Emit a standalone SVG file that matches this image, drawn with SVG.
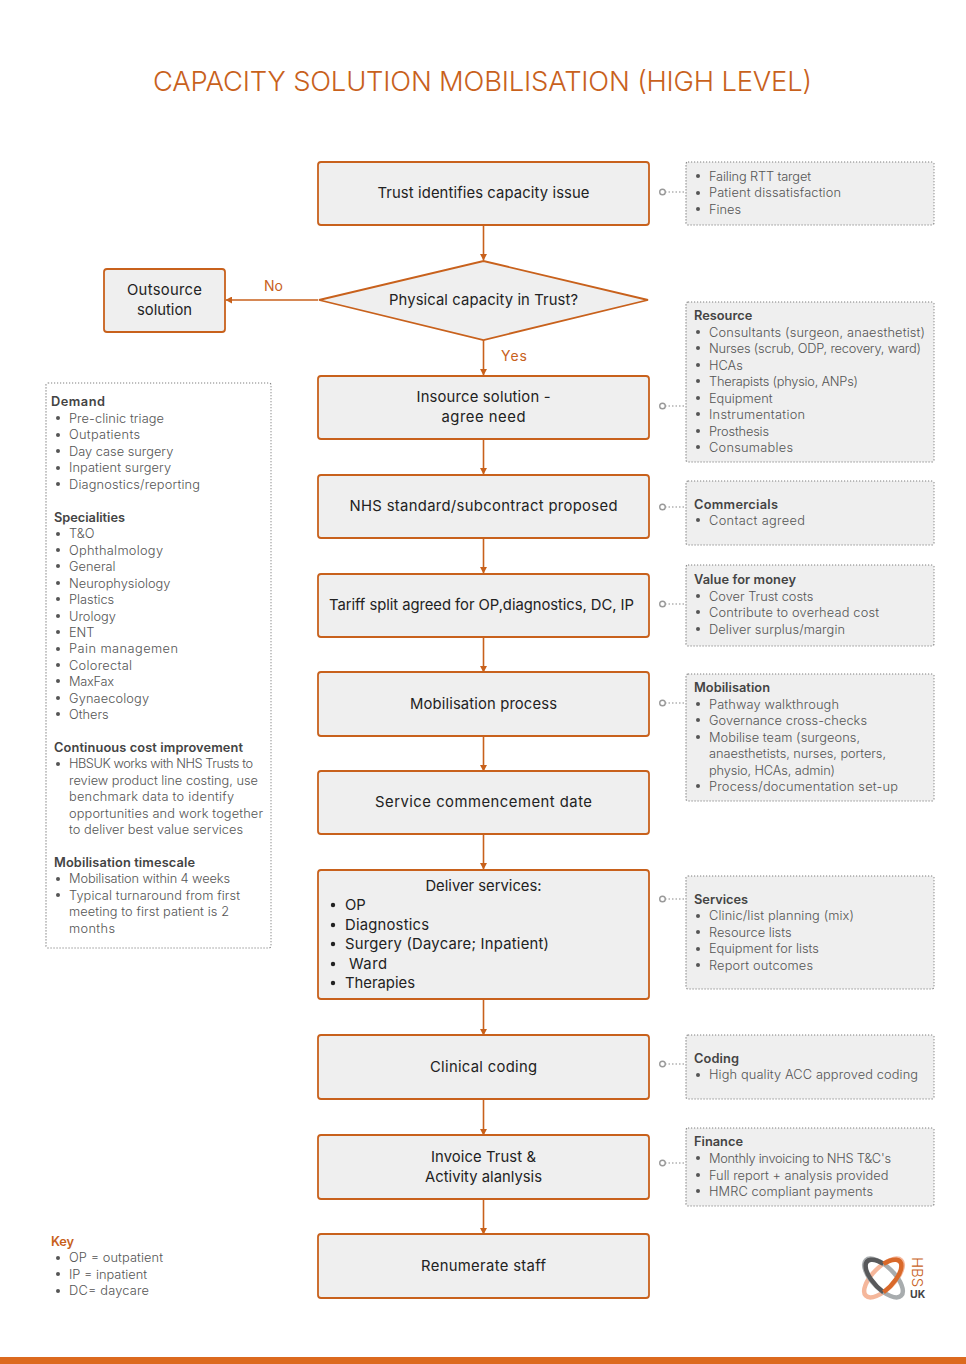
<svg xmlns="http://www.w3.org/2000/svg" width="966" height="1364" viewBox="0 0 966 1364">
<style>
text{font-family:Inter,"Liberation Sans",sans-serif}
.n{fill:#efefef;stroke:#c8611c;stroke-width:1.8}
.m{font-size:14.8px;fill:#222;text-anchor:middle}
.ml{font-size:14.8px;fill:#222}
.d{fill:#efefef;stroke:#808080;stroke-width:1.2;stroke-dasharray:1.2 1.8}
.w{fill:#fff;stroke:#808080;stroke-width:1.2;stroke-dasharray:1.2 1.8}
.h{font-size:12.8px;font-weight:600;fill:#444}
.b{font-size:12.8px;font-weight:300;fill:#555}
.o{font-size:14px;fill:#c8611c}
.c{fill:none;stroke:#c8611c;stroke-width:1.6}
.t{fill:none;stroke:#8a8a8a;stroke-width:1.2;stroke-dasharray:1.5 2}
.r{fill:#fff;stroke:#999;stroke-width:1.4}
.a{fill:#c8611c}
.bu{fill:#555}
.lg{fill:none;stroke-width:4.5}
</style>
<defs>
<marker id="ah" markerWidth="7" markerHeight="7" refX="6" refY="3.5" orient="auto" markerUnits="userSpaceOnUse"><path d="M0 0L6.500 3.500L0 7z" class="a"/></marker>
<circle id="dot" r="2" class="bu"/>
</defs>
<text id="title" x="482.5" y="91" text-anchor="middle" font-size="27.4" fill="#c8611c" font-weight="300" textLength="659">CAPACITY SOLUTION MOBILISATION (HIGH LEVEL)</text>

<g id="connectors">
<path class="c" marker-end="url(#ah)" d="M483.500 225V260"/>
<path class="c" marker-end="url(#ah)" d="M318 300H226"/>
<path class="c" marker-end="url(#ah)" d="M483.500 340V375"/>
<path class="c" marker-end="url(#ah)" d="M483.500 439V474"/>
<path class="c" marker-end="url(#ah)" d="M483.500 538V573"/>
<path class="c" marker-end="url(#ah)" d="M483.500 637V672"/>
<path class="c" marker-end="url(#ah)" d="M483.500 736V771"/>
<path class="c" marker-end="url(#ah)" d="M483.500 834V869"/>
<path class="c" marker-end="url(#ah)" d="M483.500 999V1035"/>
<path class="c" marker-end="url(#ah)" d="M483.500 1099V1135"/>
<path class="c" marker-end="url(#ah)" d="M483.500 1199V1234"/>
<path class="t" d="M665 192H686M665 406H686M665 507H686M665 604H686M665 703H686M665 899H686M665 1064H686M665 1163H686"/>
<circle class="r" cx="662.500" cy="192" r="2.800"/>
<circle class="r" cx="662.500" cy="406" r="2.800"/>
<circle class="r" cx="662.500" cy="507" r="2.800"/>
<circle class="r" cx="662.500" cy="604" r="2.800"/>
<circle class="r" cx="662.500" cy="703" r="2.800"/>
<circle class="r" cx="662.500" cy="899" r="2.800"/>
<circle class="r" cx="662.500" cy="1064" r="2.800"/>
<circle class="r" cx="662.500" cy="1163" r="2.800"/>
</g>

<g id="n1"><rect class="n" x="318" y="162" width="331" height="63" rx="3"/><text class="m" x="483.500" y="198" textLength="212">Trust identifies capacity issue</text></g>
<g id="n2"><path class="n" d="M319 300L483.500 261L648 300L483.500 340Z"/><text class="m" x="483.500" y="305" textLength="189">Physical capacity in Trust?</text></g>
<g id="n3"><rect class="n" x="104" y="269" width="121" height="63" rx="3"/><text class="m" x="164.500" y="295" textLength="75">Outsource</text><text class="m" x="164.500" y="315" textLength="55">solution</text></g>
<text class="o" x="264" y="291">No</text>
<text class="o" x="501" y="361" textLength="26">Yes</text>
<g id="n4"><rect class="n" x="318" y="376" width="331" height="63" rx="3"/><text class="m" x="483.500" y="402" textLength="134">Insource solution -</text><text class="m" x="483.500" y="422" textLength="84">agree need</text></g>
<g id="n5"><rect class="n" x="318" y="475" width="331" height="63" rx="3"/><text class="m" x="483.500" y="511" textLength="268">NHS standard/subcontract proposed</text></g>
<g id="n6"><rect class="n" x="318" y="574" width="331" height="63" rx="3"/><text class="m" x="481.500" y="610" textLength="305">Tariff split agreed for OP,diagnostics, DC, IP</text></g>
<g id="n7"><rect class="n" x="318" y="672" width="331" height="64" rx="3"/><text class="m" x="483.500" y="709" textLength="147">Mobilisation process</text></g>
<g id="n8"><rect class="n" x="318" y="771" width="331" height="63" rx="3"/><text class="m" x="483.500" y="807" textLength="217">Service commencement date</text></g>
<g id="n9"><rect class="n" x="318" y="870" width="331" height="129" rx="3"/><text class="m" x="483.500" y="891">Deliver services:</text>
<circle cx="333" cy="905" r="2.200" fill="#222"/><text class="ml" x="345" y="910">OP</text>
<circle cx="333" cy="925" r="2.200" fill="#222"/><text class="ml" x="345" y="930" textLength="84">Diagnostics</text>
<circle cx="333" cy="944" r="2.200" fill="#222"/><text class="ml" x="345" y="949" textLength="204">Surgery (Daycare; Inpatient)</text>
<circle cx="333" cy="964" r="2.200" fill="#222"/><text class="ml" x="349" y="969" textLength="38">Ward</text>
<circle cx="333" cy="983" r="2.200" fill="#222"/><text class="ml" x="345" y="988" textLength="70">Therapies</text></g>
<g id="n10"><rect class="n" x="318" y="1035" width="331" height="64" rx="3"/><text class="m" x="483.500" y="1072" textLength="107">Clinical coding</text></g>
<g id="n11"><rect class="n" x="318" y="1135" width="331" height="64" rx="3"/><text class="m" x="483.500" y="1162" textLength="105">Invoice Trust &amp;</text><text class="m" x="483.500" y="1182" textLength="117">Activity alanlysis</text></g>
<g id="n12"><rect class="n" x="318" y="1234" width="331" height="64" rx="3"/><text class="m" x="483.500" y="1271" textLength="125">Renumerate staff</text></g>

<g id="note1"><rect class="d" x="686" y="162" width="248" height="63" rx="2"/>
<use href="#dot" x="698" y="176"/><text class="b" x="709" y="181" textLength="102">Failing RTT target</text>
<use href="#dot" x="698" y="193"/><text class="b" x="709" y="197" textLength="132">Patient dissatisfaction</text>
<use href="#dot" x="698" y="209"/><text class="b" x="709" y="214">Fines</text></g>
<g id="note2"><rect class="d" x="686" y="302" width="248" height="160" rx="2"/>
<text class="h" x="694" y="320">Resource</text>
<use href="#dot" x="698" y="332"/><text class="b" x="709" y="337" textLength="216">Consultants (surgeon, anaesthetist)</text>
<use href="#dot" x="698" y="348"/><text class="b" x="709" y="353" textLength="212">Nurses (scrub, ODP, recovery, ward)</text>
<use href="#dot" x="698" y="365"/><text class="b" x="709" y="370">HCAs</text>
<use href="#dot" x="698" y="381"/><text class="b" x="709" y="386" textLength="149">Therapists (physio, ANPs)</text>
<use href="#dot" x="698" y="398"/><text class="b" x="709" y="403">Equipment</text>
<use href="#dot" x="698" y="414"/><text class="b" x="709" y="419" textLength="96">Instrumentation</text>
<use href="#dot" x="698" y="431"/><text class="b" x="709" y="436" textLength="60">Prosthesis</text>
<use href="#dot" x="698" y="447"/><text class="b" x="709" y="452" textLength="84">Consumables</text></g>
<g id="note3"><rect class="d" x="686" y="481" width="248" height="64" rx="2"/>
<text class="h" x="694" y="509" textLength="84">Commercials</text>
<use href="#dot" x="698" y="520"/><text class="b" x="709" y="525" textLength="96">Contact agreed</text></g>
<g id="note4"><rect class="d" x="686" y="565" width="248" height="81" rx="2"/>
<text class="h" x="694" y="584" textLength="102">Value for money</text>
<use href="#dot" x="698" y="596"/><text class="b" x="709" y="601">Cover Trust costs</text>
<use href="#dot" x="698" y="612"/><text class="b" x="709" y="617" textLength="170">Contribute to overhead cost</text>
<use href="#dot" x="698" y="629"/><text class="b" x="709" y="634" textLength="136">Deliver surplus/margin</text></g>
<g id="note5"><rect class="d" x="686" y="674" width="248" height="127" rx="2"/>
<text class="h" x="694" y="692" textLength="76">Mobilisation</text>
<use href="#dot" x="698" y="704"/><text class="b" x="709" y="709" textLength="130">Pathway walkthrough</text>
<use href="#dot" x="698" y="720"/><text class="b" x="709" y="725" textLength="158">Governance cross-checks</text>
<use href="#dot" x="698" y="737"/><text class="b" x="709" y="742" textLength="151">Mobilise team (surgeons,</text>
<text class="b" x="709" y="758" textLength="177">anaesthetists, nurses, porters,</text>
<text class="b" x="709" y="775" textLength="126">physio, HCAs, admin)</text>
<use href="#dot" x="698" y="786"/><text class="b" x="709" y="791" textLength="189">Process/documentation set-up</text></g>
<g id="note6"><rect class="d" x="686" y="876" width="248" height="113" rx="2"/>
<text class="h" x="694" y="904">Services</text>
<use href="#dot" x="698" y="916"/><text class="b" x="709" y="920" textLength="145">Clinic/list planning (mix)</text>
<use href="#dot" x="698" y="932"/><text class="b" x="709" y="937">Resource lists</text>
<use href="#dot" x="698" y="949"/><text class="b" x="709" y="953">Equipment for lists</text>
<use href="#dot" x="698" y="965"/><text class="b" x="709" y="970" textLength="104">Report outcomes</text></g>
<g id="note7"><rect class="d" x="686" y="1035" width="248" height="64" rx="2"/>
<text class="h" x="694" y="1063" textLength="45">Coding</text>
<use href="#dot" x="698" y="1075"/><text class="b" x="709" y="1079" textLength="209">High quality ACC approved coding</text></g>
<g id="note8"><rect class="d" x="686" y="1128" width="248" height="78" rx="2"/>
<text class="h" x="694" y="1146" textLength="49">Finance</text>
<use href="#dot" x="698" y="1158"/><text class="b" x="709" y="1163" textLength="182">Monthly invoicing to NHS T&amp;C's</text>
<use href="#dot" x="698" y="1175"/><text class="b" x="709" y="1180">Full report + analysis provided</text>
<use href="#dot" x="698" y="1191"/><text class="b" x="709" y="1196" textLength="164">HMRC compliant payments</text></g>

<g id="left-note"><rect class="w" x="46" y="383" width="225" height="565" rx="2"/>
<text class="h" x="51" y="406" textLength="54">Demand</text>
<use href="#dot" x="58" y="418"/><text class="b" x="69" y="423" textLength="95">Pre-clinic triage</text>
<use href="#dot" x="58" y="435"/><text class="b" x="69" y="439" textLength="71">Outpatients</text>
<use href="#dot" x="58" y="451"/><text class="b" x="69" y="456">Day case surgery</text>
<use href="#dot" x="58" y="468"/><text class="b" x="69" y="472" textLength="102">Inpatient surgery</text>
<use href="#dot" x="58" y="484"/><text class="b" x="69" y="489" textLength="131">Diagnostics/reporting</text>
<text class="h" x="54" y="522" textLength="71">Specialities</text>
<use href="#dot" x="58" y="534"/><text class="b" x="69" y="538">T&amp;O</text>
<use href="#dot" x="58" y="550"/><text class="b" x="69" y="555" textLength="94">Ophthalmology</text>
<use href="#dot" x="58" y="566"/><text class="b" x="69" y="571">General</text>
<use href="#dot" x="58" y="583"/><text class="b" x="69" y="588">Neurophysiology</text>
<use href="#dot" x="58" y="599"/><text class="b" x="69" y="604">Plastics</text>
<use href="#dot" x="58" y="616"/><text class="b" x="69" y="621">Urology</text>
<use href="#dot" x="58" y="632"/><text class="b" x="69" y="637">ENT</text>
<use href="#dot" x="58" y="649"/><text class="b" x="69" y="653" textLength="109">Pain managemen</text>
<use href="#dot" x="58" y="665"/><text class="b" x="69" y="670" textLength="63">Colorectal</text>
<use href="#dot" x="58" y="681"/><text class="b" x="69" y="686" textLength="45">MaxFax</text>
<use href="#dot" x="58" y="698"/><text class="b" x="69" y="703" textLength="80">Gynaecology</text>
<use href="#dot" x="58" y="714"/><text class="b" x="69" y="719">Others</text>
<text class="h" x="54" y="752" textLength="189">Continuous cost improvement</text>
<use href="#dot" x="58" y="764"/><text class="b" x="69" y="768" textLength="184">HBSUK works with NHS Trusts to</text>
<text class="b" x="69" y="785">review product line costing, use</text>
<text class="b" x="69" y="801" textLength="165">benchmark data to identify</text>
<text class="b" x="69" y="818" textLength="194">opportunities and work together</text>
<text class="b" x="69" y="834" textLength="174">to deliver best value services</text>
<text class="h" x="54" y="867" textLength="141">Mobilisation timescale</text>
<use href="#dot" x="58" y="879"/><text class="b" x="69" y="883" textLength="161">Mobilisation within 4 weeks</text>
<use href="#dot" x="58" y="895"/><text class="b" x="69" y="900" textLength="171">Typical turnaround from first</text>
<text class="b" x="69" y="916" textLength="160">meeting to first patient is 2</text>
<text class="b" x="69" y="933" textLength="46">months</text></g>

<g id="key"><text x="51" y="1246" font-size="12.800" font-weight="600" fill="#c8611c" textLength="23">Key</text>
<use href="#dot" x="58" y="1258"/><text class="b" x="69" y="1262" textLength="94">OP = outpatient</text>
<use href="#dot" x="58" y="1274"/><text class="b" x="69" y="1279" textLength="78">IP = inpatient</text>
<use href="#dot" x="58" y="1291"/><text class="b" x="69" y="1295" textLength="80">DC= daycare</text></g>

<g id="logo">
<ellipse class="lg" cx="883.500" cy="1278" rx="25" ry="11" transform="rotate(-45 883.500 1278)" stroke="#f5b79b"/>
<ellipse class="lg" cx="883.500" cy="1278" rx="25" ry="11" transform="rotate(45 883.500 1278)" stroke="#a8acae"/>
<path class="lg" stroke="#58595b" d="M883.500 1263.800A25 11 45 0 0 883.500 1292.200"/>
<path class="lg" stroke="#d9692a" d="M883.500 1263.800A25 11 -45 0 1 883.500 1292.200"/>
<text transform="translate(912 1257) rotate(90)" font-size="15" font-weight="300" fill="#c8611c">HBS</text>
<text x="910" y="1298" font-size="10.500" font-weight="700" fill="#444">UK</text>
</g>
<rect id="footer" x="0" y="1357" width="966" height="7" fill="#dc6a1f"/>
</svg>
